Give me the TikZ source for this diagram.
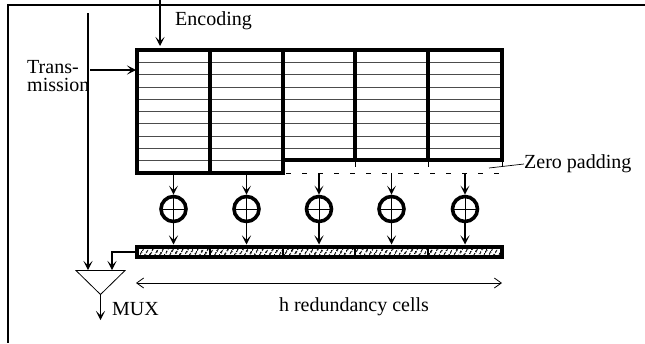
\documentclass[tikz,border=0pt]{standalone}
\usepackage{fontspec}
\setmainfont{Liberation Serif}
\usetikzlibrary{arrows.meta,patterns.meta}
\begin{document}
\begin{tikzpicture}[x=1pt,y=-1pt,
  lbl/.style={font=\fontsize{20}{18}\selectfont, inner sep=0pt},
  wire/.style={line width=1.1pt},
  arr/.style={wire,-{Stealth[length=9pt,width=9pt,inset=4.5pt]}},
  dimarr/.style={line width=0.8pt,{Straight Barb[length=7pt,width=10pt]}-{Straight Barb[length=7pt,width=10pt]}},
  thickb/.style={line width=3.6pt},
  rowline/.style={line width=0.8pt, black!70},
  xorc/.style={circle, draw, line width=3.6pt, minimum size=25pt, inner sep=0pt,
    path picture={\draw[line width=0.7pt]
      (path picture bounding box.north) -- (path picture bounding box.south)
      (path picture bounding box.west) -- (path picture bounding box.east);}}
]
\useasboundingbox (0,0) rectangle (645,343);

% frame
\draw[line width=2.8pt] (645,5) -- (8,5) -- (8,343);

% row lines of the matrix
\foreach \k in {1,...,8}
  \draw[rowline] (137,{50+\k*12.3}) -- (502,{50+\k*12.3});
\draw[rowline] (137,160.7) -- (283,160.7);

% matrix outline and column dividers
\draw[thickb, line join=miter] (137,50) -- (502,50) -- (502,160) -- (283,160) -- (283,173) -- (137,173) -- cycle;
\draw[thickb] (210,50) -- (210,173);
\draw[thickb] (283,50) -- (283,160);
\draw[thickb] (355,50) -- (355,160);
\draw[thickb] (428,50) -- (428,160);
\foreach \x in {355,428,502}
  \draw[line width=0.7pt] (\x,160) -- (\x,167);

% zero padding
\draw[line width=0.9pt, dash pattern=on 5pt off 11pt] (286,173) -- (502,173);
\node[lbl, anchor=west] (zp) at (524,164) {Zero padding};
\draw[line width=0.7pt] (489,168) -- (zp.west);

% column taps, XOR circles and redundancy bar
\draw[line width=4pt, pattern={Lines[angle=60,distance=4pt,line width=1.5pt]}] (137,246.5) rectangle (502,256.5);
\foreach \x in {210,283,355,428}
  \draw[line width=1.2pt] (\x,245) -- (\x,258);

\foreach \i/\x in {1/173.5,2/246.5,3/319,4/391.5,5/465} {
  \coordinate (top\i) at (\x,173);
  \node[xorc] (xo\i) at (\x,209) {};
  \coordinate (bar\i) at (\x,244.5);
  \draw[arr] (top\i) -- (xo\i.north);
  \draw[arr] (xo\i.south) -- (bar\i);
}

% encoding and transmission inputs
\coordinate (encs) at (160,0);
\coordinate (ence) at (160,46);
\draw[arr] (encs) -- (ence);
\node[lbl, anchor=west] (enc) at (175,21) {Encoding};

\node[lbl, anchor=west] (tr1) at (27,67) {Trans-};
\node[lbl, anchor=west] (tr2) at (27,85) {mission};
\coordinate (trs) at (90,70);
\coordinate (tre) at (136,70);
\draw[arr] (trs) -- (tre);

% multiplexer
\coordinate (m1) at (76,270.5);
\coordinate (m2) at (125,270.5);
\coordinate (m3) at (100.5,294.5);
\draw[line width=0.8pt] (m1) -- (m2) -- (m3) -- cycle;
\coordinate (tx) at (88,13);
\coordinate (mi1) at (88,270);
\coordinate (bl) at (137,252);
\coordinate (mi2) at (112,270);
\draw[arr] (tx) -- (mi1);
\draw[arr] (bl) -| (mi2);
\coordinate (mout) at (100.5,320);
\draw[arr] (m3) -- (mout);
\node[lbl, anchor=west] (mux) at (112,309) {MUX};

% redundancy span
\coordinate (sl) at (136,283);
\coordinate (sr) at (502,283);
\draw[dimarr] (sl) -- (sr);
\node[lbl] (hr) at (354,307) {h redundancy cells};
\end{tikzpicture}
\end{document}
